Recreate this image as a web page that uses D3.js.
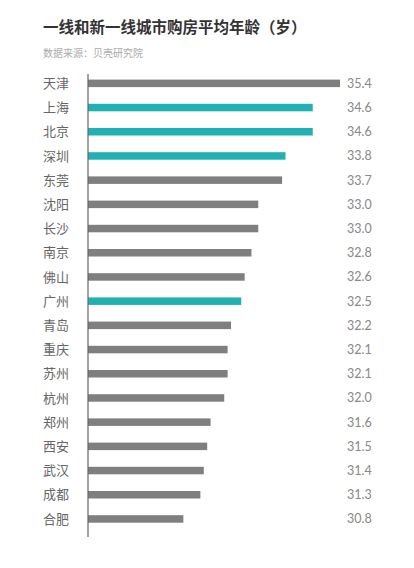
<!DOCTYPE html>
<html>
<head>
<meta charset="utf-8">
<title>一线和新一线城市购房平均年龄</title>
<script src="https://cdnjs.cloudflare.com/ajax/libs/d3/7.8.5/d3.min.js"></script>
<style>
    body { margin:0; background:#fff; }
    svg { display:block; font-family:"Noto Sans CJK SC", "Noto Sans", sans-serif; }
</style>
</head>
<body>
<div class="chart"></div>
<script>
var cities = ['天津','上海','北京','深圳','东莞','沈阳','长沙','南京','佛山','广州','青岛','重庆','苏州','杭州','郑州','西安','武汉','成都','合肥'];
var ages = [35.4,34.6,34.6,33.8,33.7,33.0,33.0,32.8,32.6,32.5,32.2,32.1,32.1,32.0,31.6,31.5,31.4,31.3,30.8];
var highlight = ['上海','北京','深圳','广州'];

var width = 414, height = 568;

var svg = d3.select('.chart').append('svg')
    .attr('width', width)
    .attr('height', height);

// x starts at 28, not zero, as in the picture
var x = d3.scaleLinear().domain([28, 35.4]).range([88, 340]);
var y = d3.scaleBand().domain(cities).range([62.9, 539.4]).padding(0.69);

svg.append('text')
    .attr('x', 43).attr('y', 33)
    .attr('font-size', 15.5)
    .attr('font-weight', 'bold')
    .attr('fill', '#333')
    .text('一线和新一线城市购房平均年龄（岁）');

svg.append('text')
    .attr('x', 43).attr('y', 57)
    .attr('font-size', 10)
    .attr('fill', '#aaa')
    .text('数据来源：贝壳研究院');

svg.selectAll('rect.bar')
    .data(cities)
    .enter().append('rect')
    .attr('class', 'bar')
    .attr('x', x(28))
    .attr('y', function(d) { return y(d); })
    .attr('width', function(d, i) { return x(ages[i]) - x(28); })
    .attr('height', y.bandwidth())
    .attr('fill', function(d) { return highlight.indexOf(d) >= 0 ? '#21b1b4' : '#7f7f7f'; });

// city names on the left
svg.selectAll('text.city')
    .data(cities)
    .enter().append('text')
    .attr('class', 'city')
    .attr('x', 43)
    .attr('y', function(d) { return y(d) + y.bandwidth() / 2; })
    .attr('dy', '0.36em')
    .attr('font-size', 13)
    .attr('fill', '#666')
    .text(function(d) { return d; });

// value labels on the right
svg.selectAll('text.val')
    .data(cities)
    .enter().append('text')
    .attr('class', 'val')
    .attr('x', 347)
    .attr('y', function(d) { return y(d) + y.bandwidth() / 2; })
    .attr('dy', '0.36em')
    .attr('font-size', 12.5)
    .attr('font-family', 'Lato, "Noto Sans", sans-serif')
    .attr('fill', '#888')
    .text(function(d, i) { return ages[i].toFixed(1); });

svg.append('line')
    .attr('x1', 88).attr('x2', 88)
    .attr('y1', 74).attr('y2', 537)
    .attr('stroke', '#666')
    .attr('stroke-width', 1.2);
</script>
</body>
</html>
